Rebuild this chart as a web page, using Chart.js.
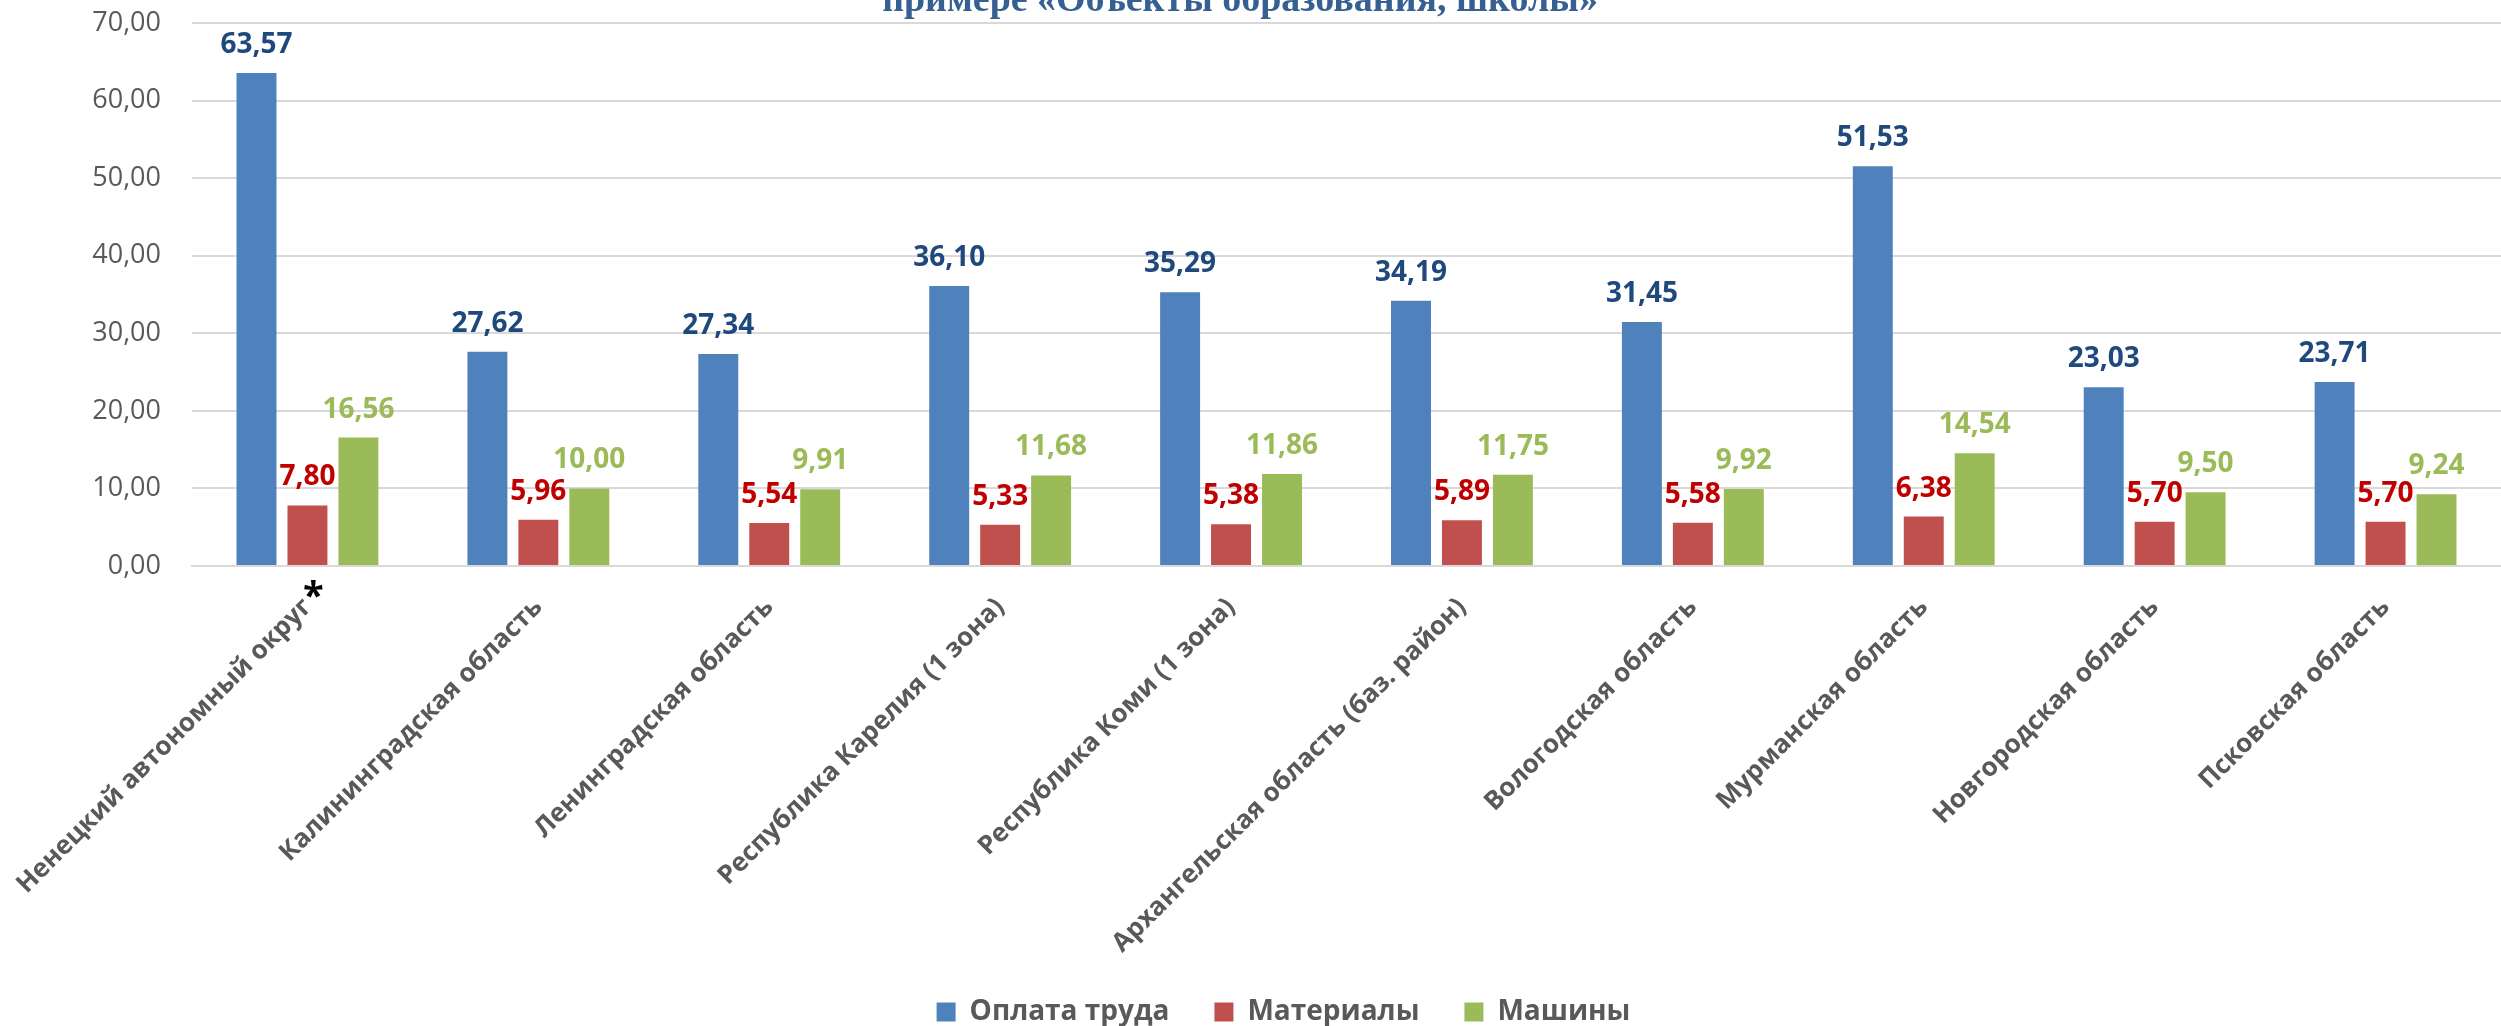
<!DOCTYPE html>
<html lang="ru">
<head>
<meta charset="utf-8">
<title>Оплата труда, материалы, машины</title>
<script src="https://cdn.jsdelivr.net/npm/chart.js@4.4.1/dist/chart.umd.min.js"></script>
<style>
  html, body { margin: 0; padding: 0; background: #ffffff; overflow: hidden; }
  #wrap { width: 2501px; height: 1026px; position: relative; }
</style>
</head>
<body>
<div id="wrap"><canvas id="myChart" width="2501" height="1026"></canvas></div>
<script>
// Regions along the x-axis
var regions = [
  "Ненецкий автономный округ",
  "Калининградская область",
  "Ленинградская область",
  "Республика Карелия (1 зона)",
  "Республика Коми (1 зона)",
  "Архангельская область (баз. район)",
  "Вологодская область",
  "Мурманская область",
  "Новгородская область",
  "Псковская область"
];

// Series values
var labour    = [63.57, 27.62, 27.34, 36.10, 35.29, 34.19, 31.45, 51.53, 23.03, 23.71];
var materials = [7.80, 5.96, 5.54, 5.33, 5.38, 5.89, 5.58, 6.38, 5.70, 5.70];
var machines  = [16.56, 10.00, 9.91, 11.68, 11.86, 11.75, 9.92, 14.54, 9.50, 9.24];

var seriesNames = ["Оплата труда", "Материалы", "Машины"];
var titleText = "примере «Объекты образования, школы»";

// y axis ticks
var yMin = 0, yMax = 70, yStep = 10;

// numbers are written with a comma, two decimals
function fmt(v) {
  return v.toFixed(2).replace(".", ",");
}

// draws the value above each bar, coloured per series
var valueLabels = {
  id: "valueLabels",
  afterDatasetsDraw: function(chart) {
    var ctx = chart.ctx;
    var colours = ["#1F497D", "#C00000", "#9BBB59"];
    ctx.save();
    ctx.font = "bold 28px 'Open Sans'";
    ctx.textAlign = "center";
    ctx.textBaseline = "alphabetic";
    chart.data.datasets.forEach(function(ds, i) {
      var meta = chart.getDatasetMeta(i);
      ctx.fillStyle = colours[i];
      meta.data.forEach(function(bar, j) {
        ctx.fillText(fmt(ds.data[j]), bar.x, bar.y - 20);
      });
    });
    ctx.restore();
  }
};

// the title is cut off by the top edge in the original, so draw only its lower part
var cutTitle = {
  id: "cutTitle",
  afterDraw: function(chart) {
    var ctx = chart.ctx;
    ctx.save();
    ctx.font = "bold 100px 'Liberation Serif'";
    var w = ctx.measureText(titleText).width;
    var size = 100 * 716 / w;
    ctx.font = "bold " + size + "px 'Liberation Serif'";
    ctx.fillStyle = "#366092";
    ctx.textAlign = "center";
    ctx.textBaseline = "alphabetic";
    ctx.fillText(titleText, 1240, 11);
    ctx.restore();
  }
};

// black asterisk after the first region name
var footnoteMark = {
  id: "footnoteMark",
  afterDraw: function(chart) {
    var xs = chart.scales.x;
    var ctx = chart.ctx;
    ctx.save();
    ctx.font = "bold 38px 'Open Sans'";
    ctx.fillStyle = "#000000";
    ctx.textAlign = "center";
    ctx.textBaseline = "alphabetic";
    ctx.fillText("*", xs.getPixelForTick(0) + 6, xs.top + 43);
    ctx.restore();
  }
};

// nudge the legend a little right and down, and let the long rotated
// category names run below the x-axis box instead of being clipped
var legendNudge = {
  id: "legendNudge",
  afterLayout: function(chart) {
    var lg = chart.legend;
    if (lg) {
      lg.left += 33; lg.right += 33;
      lg.top += 10; lg.bottom += 10;
    }
    chart.scales.x.bottom += 40;
  }
};

var ctx = document.getElementById("myChart");
var myChart = new Chart(ctx, {
  type: "bar",
  data: {
    labels: regions,
    datasets: [
      { label: seriesNames[0], data: labour,    backgroundColor: "#4F81BD" },
      { label: seriesNames[1], data: materials, backgroundColor: "#C0504D" },
      { label: seriesNames[2], data: machines,  backgroundColor: "#9BBB59" }
    ]
  },
  options: {
    responsive: false,
    devicePixelRatio: 1,
    animation: false,
    categoryPercentage: 0.662,
    barPercentage: 0.784,
    layout: { padding: { top: 23, left: 0, right: 0, bottom: 0 } },
    plugins: {
      title: { display: false },
      tooltip: { enabled: false },
      legend: {
        position: "bottom",
        labels: {
          boxWidth: 19,
          boxHeight: 19,
          padding: 45,
          color: "#595959",
          font: { family: "'Open Sans'", size: 28, weight: "bold" }
        }
      }
    },
    scales: {
      x: {
        grid: { display: false, drawTicks: false },
        border: { display: true, color: "#D9D9D9", width: 2 },
        ticks: {
          autoSkip: false,
          minRotation: 45,
          maxRotation: 45,
          padding: 26,
          color: "#595959",
          font: { family: "'Open Sans'", size: 26, weight: "bold" }
        },
        afterFit: function(scale) {
          var lg = scale.chart.legend ? scale.chart.legend.height : 0;
          scale.height = scale.chart.height - 566 - lg;
          scale.paddingLeft = 0;
          scale.paddingRight = 0;
        }
      },
      y: {
        min: yMin,
        max: yMax,
        grid: { color: "#D9D9D9", lineWidth: 2, drawTicks: true, tickLength: 31, tickColor: "rgba(0,0,0,0)" },
        border: { display: false },
        ticks: {
          stepSize: yStep,
          padding: 0,
          color: "#595959",
          font: { family: "'Open Sans'", size: 27 },
          callback: function(v) { return fmt(v); }
        },
        afterFit: function(scale) {
          scale.width = 192;
          scale.paddingTop = 0;
        }
      }
    }
  },
  plugins: [valueLabels, cutTitle, footnoteMark, legendNudge]
});
</script>
</body>
</html>
